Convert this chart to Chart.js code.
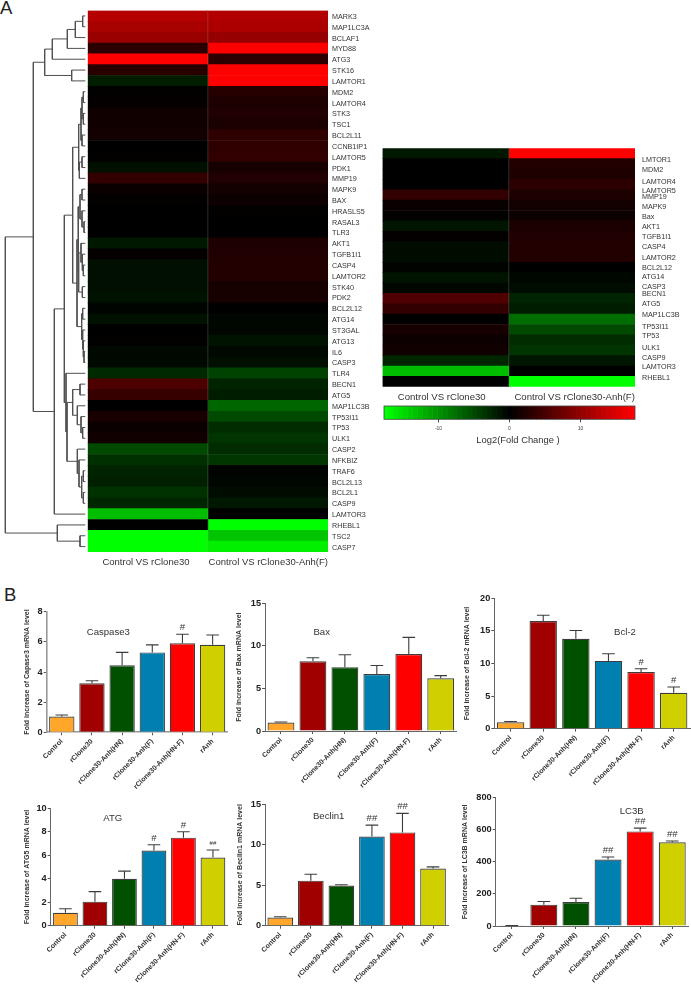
<!DOCTYPE html>
<html>
<head>
<meta charset="utf-8">
<script src="https://cdn.jsdelivr.net/npm/chart.js@4"></script>
<style>
html,body{margin:0;padding:0;background:#fff;width:691px;height:984px;overflow:hidden}
canvas{position:absolute;display:block;filter:blur(0.35px)}
.letter{position:absolute;font:18.5px "Liberation Sans",Arial,sans-serif;color:#222;line-height:20px}
</style>
</head>
<body>
<div class="letter" style="left:0;top:-2px">A</div>
<div class="letter" style="left:4px;top:585px">B</div>
<script>
/* ---------- data ---------- */
const columnLabels = ["Control VS rClone30", "Control VS rClone30-Anh(F)"];
const genes = ["MARK3","MAP1LC3A","BCLAF1","MYD88","ATG3","STK16","LAMTOR1","MDM2","LAMTOR4","STK3","TSC1","BCL2L11","CCNB1IP1","LAMTOR5","PDK1","MMP19","MAPK9","BAX","HRASLS5","RASAL3","TLR3","AKT1","TGFB1I1","CASP4","LAMTOR2","STK40","PDK2","BCL2L12","ATG14","ST3GAL","ATG13","IL6","CASP3","TLR4","BECN1","ATG5","MAP1LC3B","TP53I11","TP53","ULK1","CASP2","NFKBIZ","TRAF6","BCL2L13","BCL2L1","CASP9","LAMTOR3","RHEBL1","TSC2","CASP7"];
const geneVsClone = [12.4,11.6,10.5,3,18,2.8,-2,0.2,0.3,1.1,1.2,1.3,0.1,0.2,-1,3.4,0.6,0.2,0,0,0,-1.6,0.3,-1,-1,-1,-1.3,-0.3,-1.2,0.1,0.2,-0.6,-0.6,-2.8,5.3,3.8,0,1.7,0.7,1.2,-5,-3.2,-2.4,-2.2,-3.4,-2.6,-13,0,-18,-18];
const geneVsAnh = [12.2,11.8,10.3,18,3,18,18,2.6,2,2.2,1.8,3.2,3.2,3.4,1.5,2.2,1.3,0.8,0.2,0.1,0.1,2,2.2,2.4,2.4,1.6,1.6,0.1,-0.5,-0.5,-1.3,-0.6,-1,-4.5,-2.4,-2,-7,-5,-3,-3.6,-3,-3.8,-0.2,-0.4,-0.8,-1.6,0,-18,-13.5,-16.5];

const subsetGenes = ["LMTOR1","MDM2","LAMTOR4","LAMTOR5","MMP19","MAPK9","Bax","AKT1","TGFB1I1","CASP4","LAMTOR2","BCL2L12","ATG14","CASP3","BECN1","ATG5","MAP1LC3B","TP53I11","TP53","ULK1","CASP9","LAMTOR3","RHEBL1"];
const subsetVsClone = [-1.6,0,0,0,3.4,0.6,0.2,-1.4,0.3,-0.8,-0.8,-0.2,-1.3,-0.5,5.4,3.4,0.1,1.5,0.8,1.2,-2.6,-13,0];
const subsetVsAnh = [18,2.4,2,3,2,1.3,0.8,1.8,2.2,2.4,2.4,0.1,-0.4,-0.8,-2.4,-2,-7.5,-5,-3,-3.6,-1.5,0,-18];
const subsetLabelRows = [0.68,1.70,2.89,3.76,4.44,5.43,6.43,7.46,8.46,9.45,10.5,11.54,12.5,13.47,14.21,15.21,16.27,17.46,18.42,19.58,20.64,21.51,22.67];

const colorSteps = [-17.5,-16.8,-16.1,-15.4,-14.7,-14,-13.3,-12.6,-11.9,-11.2,-10.5,-9.8,-9.1,-8.4,-7.7,-7,-6.3,-5.6,-4.9,-4.2,-3.5,-2.8,-2.1,-1.4,-0.7,0,0.7,1.4,2.1,2.8,3.5,4.2,4.9,5.6,6.3,7,7.7,8.4,9.1,9.8,10.5,11.2,11.9,12.6,13.3,14,14.7,15.4,16.1,16.8,17.5];
const colorTicks = [-10,0,10];

/* dendrogram: [merge distance, child, child]; leaves are gene names */
const dendrogram = [16,
  [100,
    [134,
      [157,[202,[226,[248,"MARK3","MAP1LC3A"],"BCLAF1"],"MYD88"],"ATG3"],
      [215,"STK16","LAMTOR1"]],
    [163,
      [193,
        [218,
          [236,
            [243,[246,[250,"MDM2","LAMTOR4"],[250,"STK3","TSC1"]],[246,"BCL2L11","CCNB1IP1"]],
            [238,[246,"LAMTOR5","PDK1"],"MMP19"]],
          [231,
            [234,
              [240,[246,"MAPK9","BAX"],[246,"HRASLS5",[252,"RASAL3","TLR3"]]],
              [236,[243,"AKT1",[247,"TGFB1I1",[250,"CASP4","LAMTOR2"]]],[247,"STK40","PDK2"]]],
            [245,[248,"BCL2L12","ATG14"],[248,"ST3GAL",[250,"ATG13",[252,"IL6","CASP3"]]]]]],
        [198,"TLR4",
          [201,
            [218,[240,"BECN1","ATG5"],[232,"MAP1LC3B",[243,"TP53I11",[248,"TP53","ULK1"]]]],
            [232,"CASP2",[237,"NFKBIZ",[245,[250,"TRAF6","BCL2L13"],[250,"BCL2L1","CASP9"]]]]]]],
      "LAMTOR3"]],
  [172,"RHEBL1",[240,"TSC2","CASP7"]]];

const categories = ["Control","rClone30","rClone30-Anh(HN)","rClone30-Anh(F)","rClone30-Anh(HN-F)","rAnh"];
const caspase3Values = [1.05,3.25,4.45,5.3,5.9,5.8];
const caspase3Upper  = [1.15,3.42,5.3,5.8,6.5,6.45];
const caspase3Marks  = ["","","","","#",""];
const baxValues = [1.0,8.2,7.5,6.7,9.05,6.2];
const baxUpper  = [1.05,8.6,8.95,7.7,11,6.5];
const baxMarks  = ["","","","","",""];
const bcl2Values = [1.0,16.5,13.8,10.4,8.7,5.5];
const bcl2Upper  = [1.1,17.4,15.05,11.5,9.2,6.4];
const bcl2Marks  = ["","","","","#","#"];
const atgValues = [1.1,2.05,4.0,6.4,7.5,5.8];
const atgUpper  = [1.45,2.9,4.65,6.9,8.0,6.45];
const atgMarks  = ["","","","#","#","##"];
const beclinValues = [1.0,5.55,4.95,11.0,11.5,7.05];
const beclinUpper  = [1.1,6.35,5.05,12.4,13.85,7.25];
const beclinMarks  = ["","","","##","##",""];
const lc3bValues = [2,133,150,415,590,522];
const lc3bUpper  = [3,153,173,430,610,530];
const lc3bMarks  = ["","","","##","##","##"];

/* ---------- helpers ---------- */
Chart.defaults.font.family = '"Liberation Sans", Arial, sans-serif';
Chart.defaults.animation = false;
Chart.defaults.responsive = false;
Chart.defaults.plugins.legend.display = false;
Chart.defaults.plugins.tooltip.enabled = false;

function addCanvas(left, top, width, height) {
  const c = document.createElement("canvas");
  c.width = width; c.height = height;
  c.style.left = left + "px"; c.style.top = top + "px";
  c.style.width = width + "px"; c.style.height = height + "px";
  document.body.appendChild(c);
  return c;
}
function heatColor(v) {
  const t = Math.max(-1, Math.min(1, v / 17.5));
  const level = Math.round(Math.abs(t) * 255);
  return t >= 0 ? `rgb(${level},0,0)` : `rgb(0,${level},0)`;
}
function fixSize(prop, size) {
  return s => { s[prop] = size; s.paddingLeft = s.paddingRight = s.paddingTop = s.paddingBottom = 0; };
}
const noGrid = {display: false, drawTicks: false};
const columnDivider = {
  id: "columnDivider",
  afterDatasetsDraw(chart) {
    const {ctx, chartArea: a, scales: {x}} = chart;
    const px = x.getPixelForValue(1);
    ctx.save();
    ctx.strokeStyle = "rgba(150,150,150,0.3)";
    ctx.lineWidth = 1;
    ctx.beginPath(); ctx.moveTo(px, a.top); ctx.lineTo(px, a.bottom); ctx.stroke();
    ctx.restore();
  }
};

function heatDatasets(vals1, vals2) {
  return [vals1, vals2].map((vals, col) => ({
    data: vals.map(() => [col, col + 1]),
    backgroundColor: vals.map(heatColor),
    borderWidth: 0, barPercentage: 1, categoryPercentage: 1, grouped: false
  }));
}
function columnAxis(height, pad, fontSize, positions) {
  return {
    type: "linear", min: 0, max: 2, position: "bottom",
    afterBuildTicks: a => { a.ticks = positions.map(v => ({value: v})); },
    afterFit: fixSize("height", height),
    grid: noGrid, border: {display: false},
    ticks: {autoSkip: false, maxRotation: 0, minRotation: 0, padding: pad, color: "#333",
      font: {size: fontSize}, callback: (v, i) => columnLabels[i]}
  };
}

/* ---------- dendrogram ---------- */
(function () {
  const pts = [];
  function walk(n) {
    if (typeof n === "string") return {h: 256, y: genes.indexOf(n) + 0.5};
    const a = walk(n[1]), b = walk(n[2]);
    pts.push({x: a.h, y: a.y}, {x: n[0], y: a.y}, {x: n[0], y: b.y}, {x: b.h, y: b.y}, {x: NaN, y: NaN});
    return {h: n[0], y: (a.y + b.y) / 2};
  }
  walk(dendrogram);
  new Chart(addCanvas(0, 10, 88, 542), {
    type: "scatter",
    data: {datasets: [{data: pts, showLine: true, spanGaps: false, pointRadius: 0, borderColor: "#505050", borderWidth: 1}]},
    options: {
      layout: {padding: {top: 0.5}},
      scales: {
        x: {type: "linear", min: 0, max: 264, display: false},
        y: {type: "linear", min: 0, max: 50, reverse: true, display: false}
      }
    }
  });
})();

/* ---------- main heat map ---------- */
new Chart(addCanvas(87, 10, 291, 560), {
  type: "bar",
  data: {labels: genes, datasets: heatDatasets(geneVsClone, geneVsAnh)},
  plugins: [columnDivider],
  options: {
    indexAxis: "y",
    layout: {padding: {left: 0.7, top: 0.5}},
    scales: {
      x: columnAxis(18, 5, 9.5, [0.485, 1.503]),
      y: {
        type: "category", position: "right",
        afterFit: fixSize("width", 50),
        grid: noGrid, border: {display: false},
        ticks: {autoSkip: false, padding: 4, labelOffset: 1, color: "#333", font: {size: 7.2}}
      }
    }
  }
});

/* ---------- subset heat map ---------- */
new Chart(addCanvas(382, 148, 309, 257), {
  type: "bar",
  data: {labels: subsetGenes, datasets: heatDatasets(subsetVsClone, subsetVsAnh)},
  plugins: [columnDivider],
  options: {
    indexAxis: "y",
    layout: {padding: {left: 0.5, top: 0.3}},
    scales: {
      x: columnAxis(18.3, 4.5, 9.6, [0.469, 1.522]),
      y: {type: "category", display: false},
      rowLabels: {
        type: "linear", position: "right", min: 0, max: subsetGenes.length, reverse: true,
        afterBuildTicks: a => { a.ticks = subsetLabelRows.map(v => ({value: v})); },
        afterFit: fixSize("width", 56),
        grid: noGrid, border: {display: false},
        ticks: {autoSkip: false, padding: 7, color: "#333", font: {size: 7.2},
          callback: (v, i) => subsetGenes[i]}
      }
    }
  }
});

/* ---------- colour key ---------- */
new Chart(addCanvas(380, 402, 260, 46), {
  type: "bar",
  data: {
    labels: [""],
    datasets: colorSteps.map(v => ({
      data: [[v - 0.35, v + 0.35]],
      backgroundColor: heatColor(v), borderWidth: 0,
      barPercentage: 1, categoryPercentage: 1, grouped: false
    }))
  },
  plugins: [{
    id: "keyFrame",
    afterDraw(chart) {
      const {ctx, chartArea: a} = chart;
      ctx.save();
      ctx.strokeStyle = "#444"; ctx.lineWidth = 0.8;
      ctx.strokeRect(a.left, a.top, a.right - a.left, a.bottom - a.top);
      ctx.fillStyle = "#333"; ctx.font = '9.4px "Liberation Sans", Arial, sans-serif';
      ctx.textAlign = "center"; ctx.textBaseline = "middle";
      ctx.fillText("Log2(Fold Change )", a.left + 134, a.top + 34);
      ctx.restore();
    }
  }],
  options: {
    indexAxis: "y",
    layout: {padding: {left: 4, right: 5, top: 4}},
    scales: {
      x: {
        type: "linear", min: -17.68, max: 17.68,
        afterBuildTicks: a => { a.ticks = colorTicks.map(v => ({value: v})); },
        afterFit: fixSize("height", 28.7),
        grid: {display: true, drawOnChartArea: false, tickLength: 3, color: "#444"},
        border: {display: false},
        ticks: {autoSkip: false, maxRotation: 0, padding: 3, color: "#444", font: {size: 5},
          callback: v => String(v)}
      },
      y: {type: "category", display: false}
    }
  }
});

/* ---------- bar panels ---------- */
const barFills = ["#FFA62B","#A00000","#005000","#0080B0","#FF0000","#D0D000"];

function barPanel(cfg) {
  const {plot} = cfg;
  const fs = 7;
  const left = Math.floor(cfg.yTitleX - fs * 0.6);
  const top = Math.floor(plot.t - 8);
  const right = Math.ceil(plot.r + 3);
  const bottomPad = 60;
  const bottom = Math.ceil(plot.b + bottomPad);
  const extras = {
    id: "panelExtras",
    afterDatasetsDraw(chart) {
      const {ctx, scales: {x, y}} = chart;
      ctx.save();
      ctx.strokeStyle = "#3c3c3c"; ctx.lineWidth = 1.1;
      cfg.upper.forEach((u, i) => {
        const px = x.getPixelForValue(i);
        const yv = y.getPixelForValue(cfg.values[i]);
        const yu = y.getPixelForValue(u);
        ctx.beginPath();
        ctx.moveTo(px, yv); ctx.lineTo(px, yu);
        ctx.moveTo(px - 6.3, yu); ctx.lineTo(px + 6.3, yu);
        ctx.stroke();
      });
      ctx.fillStyle = "#333";
      ctx.textAlign = "center"; ctx.textBaseline = "middle";
      cfg.marks.forEach((m, i) => {
        if (!m) return;
        const small = cfg.smallMark === i;
        ctx.font = `${small ? 6 : 9.6}px "Liberation Sans", Arial, sans-serif`;
        ctx.fillText(m, x.getPixelForValue(i), y.getPixelForValue(cfg.upper[i]) - 6.5);
      });
      ctx.font = '9.6px "Liberation Sans", Arial, sans-serif';
      ctx.fillText(cfg.title, cfg.titleAt[0] - left, cfg.titleAt[1] - top);
      ctx.restore();
    }
  };
  new Chart(addCanvas(left, top, right - left, bottom - top), {
    type: "bar",
    data: {labels: categories, datasets: [{
      data: cfg.values, backgroundColor: barFills, borderColor: "#3c3c3c", borderWidth: 1.2,
      barPercentage: 0.84, categoryPercentage: 1
    }]},
    plugins: [extras],
    options: {
      layout: {padding: {left: 0, right: right - plot.r, top: plot.t - top, bottom: bottom - plot.b - bottomPad}},
      scales: {
        x: {
          afterFit: fixSize("height", bottomPad),
          grid: {display: true, offset: false, drawOnChartArea: false, tickLength: 3, color: "#555"},
          border: {display: true, color: cfg.axisColor || "#666", width: cfg.axisWidth || 1},
          ticks: {autoRotate: false, minRotation: 45, maxRotation: 45, autoSkip: false, padding: 2,
            color: "#333", font: {size: 7, weight: "bold"}}
        },
        y: {
          min: 0, max: cfg.max,
          afterFit: fixSize("width", plot.l - left),
          grid: {display: true, drawOnChartArea: false, tickLength: 3, color: "#555"},
          border: {display: true, color: cfg.axisColor || "#666", width: cfg.axisWidth || 1},
          ticks: {stepSize: cfg.step, padding: 1, color: "#222", font: {size: 9.2, weight: "bold"}},
          title: {display: true, text: cfg.yTitle, padding: 0, color: "#333", font: {size: fs, weight: "bold"}}
        }
      }
    }
  });
}

barPanel({title:"Caspase3", titleAt:[108.3,632.7], yTitle:"Fold increase of Capase3 mRNA level", yTitleX:27.7,
  values:caspase3Values, upper:caspase3Upper, marks:caspase3Marks, max:8, step:2,
  plot:{l:46.7,t:611.7,r:227.7,b:732.3}, axisColor:"#999", axisWidth:1.6});
barPanel({title:"Bax", titleAt:[321.7,632.7], yTitle:"Fold increase of Bax mRNA level", yTitleX:240,
  values:baxValues, upper:baxUpper, marks:baxMarks, max:15, step:5,
  plot:{l:265,t:603.3,r:456.7,b:731}});
barPanel({title:"Bcl-2", titleAt:[625,632], yTitle:"Fold increase of Bcl-2 mRNA level", yTitleX:468,
  values:bcl2Values, upper:bcl2Upper, marks:bcl2Marks, max:20, step:5,
  plot:{l:494.3,t:598.3,r:690,b:728.7}});
barPanel({title:"ATG", titleAt:[112.7,818], yTitle:"Fold increase of ATG5 mRNA level", yTitleX:27.7,
  values:atgValues, upper:atgUpper, marks:atgMarks, max:10, step:2, smallMark:5,
  plot:{l:50.7,t:808.3,r:227.7,b:925.7}});
barPanel({title:"Beclin1", titleAt:[328.7,816.7], yTitle:"Fold increase of Beclin1 mRNA level", yTitleX:241,
  values:beclinValues, upper:beclinUpper, marks:beclinMarks, max:15, step:5,
  plot:{l:265,t:804,r:448.3,b:925.7}});
barPanel({title:"LC3B", titleAt:[631.7,811.7], yTitle:"Fold increase of LC3B mRNA level", yTitleX:465.7,
  values:lc3bValues, upper:lc3bUpper, marks:lc3bMarks, max:800, step:200,
  plot:{l:495.7,t:797.7,r:688.3,b:926}});
</script>
</body>
</html>
